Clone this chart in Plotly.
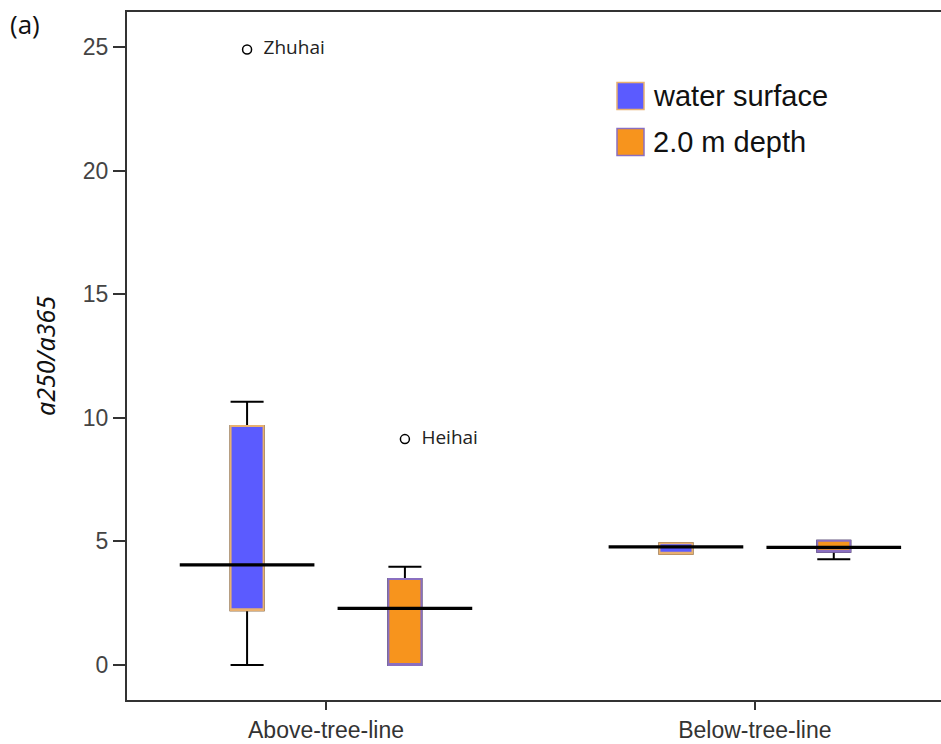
import plotly.graph_objects as go

# ---------------- data ----------------
categories = ["Above-tree-line", "Below-tree-line"]
series = ["water surface", "2.0 m depth"]

ws_lower = [0.0, 4.50]
ws_q1 = [2.22, 4.50]
ws_median = [4.05, 4.78]
ws_q3 = [9.67, 4.93]
ws_upper = [10.65, 4.93]

dp_lower = [0.0, 4.28]
dp_q1 = [0.0, 4.58]
dp_median = [2.29, 4.76]
dp_q3 = [3.48, 5.03]
dp_upper = [3.98, 5.03]

outlier_names = ["Zhuhai", "Heihai"]
outlier_values = [24.9, 9.14]
outlier_category = [0, 0]
outlier_series = [0, 1]

y_ticks = [0, 5, 10, 15, 20, 25]

# ---------------- styles ----------------
fill_colors = ["#5b5bff", "#f7941d"]
edge_colors = ["#e8b070", "#8a6fc0"]
group_offset = 0.184
box_width = 0.077
median_half = 0.157

stats = [
    (ws_lower, ws_q1, ws_median, ws_q3, ws_upper),
    (dp_lower, dp_q1, dp_median, dp_q3, dp_upper),
]

fig = go.Figure()

for s, (lo, q1, med, q3, up) in enumerate(stats):
    off = -group_offset if s == 0 else group_offset
    xs = [i + off for i in range(len(categories))]
    # full box with black whiskers
    fig.add_trace(go.Box(
        x=xs, q1=q1, median=med, q3=q3, lowerfence=lo, upperfence=up,
        width=box_width, whiskerwidth=1, fillcolor=fill_colors[s],
        line=dict(color="black", width=2), boxpoints=False,
        name=series[s], showlegend=False, hoverinfo="skip"))
    # coloured outline over the box
    fig.add_trace(go.Box(
        x=xs, q1=q1, median=q1, q3=q3, lowerfence=q1, upperfence=q3,
        width=box_width, whiskerwidth=0, fillcolor=fill_colors[s],
        line=dict(color=edge_colors[s], width=2), boxpoints=False,
        name=series[s], showlegend=False, hoverinfo="skip"))

# wide median lines
for s, (lo, q1, med, q3, up) in enumerate(stats):
    off = -group_offset if s == 0 else group_offset
    mx, my = [], []
    for i in range(len(categories)):
        c = i + off
        mx += [c - median_half, c + median_half, None]
        my += [med[i], med[i], None]
    fig.add_trace(go.Scatter(
        x=mx, y=my, mode="lines", line=dict(color="black", width=3.2),
        showlegend=False, hoverinfo="skip"))

# outliers
ox = [outlier_category[k] + (-group_offset if outlier_series[k] == 0 else group_offset)
      for k in range(len(outlier_names))]
fig.add_trace(go.Scatter(
    x=ox, y=outlier_values, mode="markers+text", text=outlier_names,
    texttemplate="  %{text}",
    textposition="middle right",
    textfont=dict(family="Open Sans", size=19, color="#222"),
    marker=dict(symbol="circle-open", size=9, color="black", line=dict(width=1.5)),
    showlegend=False, hoverinfo="skip"))

# ---------------- manual legend (large squares) ----------------
W, H = 941, 744
ml, mr, mt, mb = 127, 0, 12, 44
pw, ph = W - ml - mr, H - mt - mb


def px2paper(px, py):
    return (px - ml) / pw, (H - mb - py) / ph


shapes = []
annotations = []
leg_rows = [96, 142]
for s in range(len(series)):
    cy = leg_rows[s]
    x0, y0 = px2paper(617, cy - 13.5)
    x1, y1 = px2paper(644, cy + 13.5)
    shapes.append(dict(type="rect", xref="paper", yref="paper", x0=x0, x1=x1,
                       y0=y1, y1=y0, fillcolor=fill_colors[s],
                       line=dict(color=edge_colors[s], width=1.5)))
    tx, ty = px2paper(651, cy)
    annotations.append(dict(xref="paper", yref="paper", x=tx, y=ty, text=series[s],
                            showarrow=False, xanchor="left", yanchor="middle",
                            font=dict(family="Liberation Sans", size=29, color="#111")))

# panel label
annotations.append(dict(xref="paper", yref="paper", x=px2paper(8, 0)[0], y=px2paper(0, 24)[1],
                        text="(a)", showarrow=False, xanchor="left", yanchor="middle",
                        font=dict(family="Open Sans", size=26, color="#111")))

fig.update_layout(
    width=W, height=H,
    margin=dict(l=ml, r=mr, t=mt, b=mb, autoexpand=False),
    paper_bgcolor="white", plot_bgcolor="white",
    showlegend=False,
    boxmode="overlay",
    shapes=shapes, annotations=annotations,
    xaxis=dict(
        range=[-0.464, 1.434], tickvals=list(range(len(categories))), ticktext=categories,
        showgrid=False, zeroline=False, showline=True, linecolor="#333", linewidth=2,
        mirror=True, ticks="outside", ticklen=8, tickcolor="#333", tickwidth=1.5,
        automargin=False,
        tickfont=dict(family="Liberation Sans", size=23, color="#333")),
    yaxis=dict(
        range=[-1.416, 26.42], tickvals=y_ticks, ticktext=[str(v) for v in y_ticks],
        showgrid=False, zeroline=False, showline=True, linecolor="#333", linewidth=2,
        mirror=False, automargin=False,
        ticks="outside", ticklen=12, tickcolor="#333", tickwidth=1.5,
        tickfont=dict(family="Liberation Sans", size=23, color="#444"),
        title=dict(text="<i>a250/a365</i>", font=dict(family="Noto Sans", size=25, color="#111"),
                   standoff=20)),
)

fig.write_html("out.html")
